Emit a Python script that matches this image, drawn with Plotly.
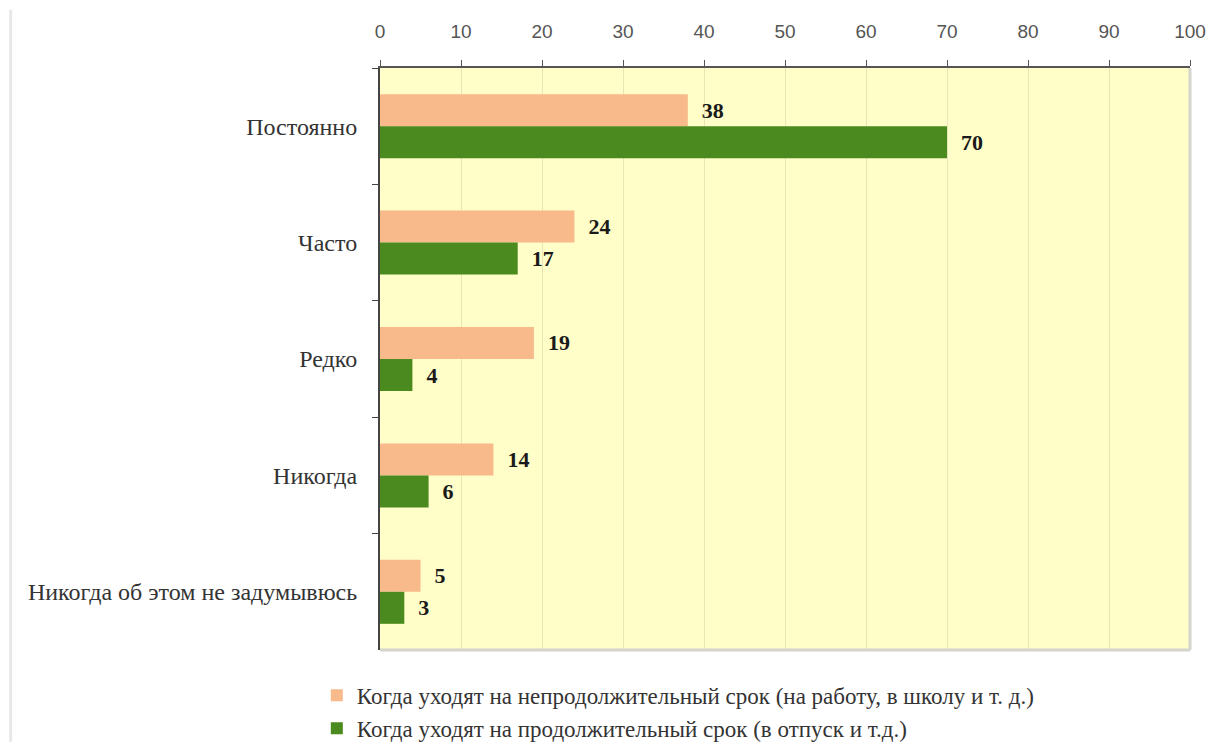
import plotly.graph_objects as go

categories = ["Постоянно", "Часто", "Редко", "Никогда", "Никогда об этом не задумывюсь"]
short_absence = [38, 24, 19, 14, 5]
long_absence = [70, 17, 4, 6, 3]
series_names = [
    "Когда уходят на непродолжительный срок (на работу, в школу и т. д.)",
    "Когда уходят на продолжительный срок (в отпуск и т.д.)",
]
x_ticks = [0, 10, 20, 30, 40, 50, 60, 70, 80, 90, 100]

ORANGE = "#F8B98B"
GREEN = "#4A8A1E"
SERIF = "Liberation Serif, Times New Roman, serif"

fig = go.Figure()
for name, vals, color, grp in [
    (series_names[0], short_absence, ORANGE, "a"),
    (series_names[1], long_absence, GREEN, "b"),
]:
    fig.add_trace(go.Bar(
        y=categories, x=vals, name=name, orientation="h",
        marker=dict(color=color, line=dict(width=0)),
        text=vals, texttemplate="\u00a0\u00a0%{text}",
        textposition="outside", cliponaxis=False,
        textfont=dict(family=SERIF, size=22, color="#1a1a1a", weight="bold"),
        legendgroup=grp,
    ))

fig.update_layout(
    width=1211, height=742,
    margin=dict(l=380, r=21, t=68, b=92, autoexpand=False),
    paper_bgcolor="white",
    plot_bgcolor="#FFFDC8",
    barmode="group",
    bargap=0.45,
    bargroupgap=0,
    showlegend=True,
    legend=dict(
        x=-0.078, y=-0.041, xanchor="left", yanchor="top",
        orientation="v", traceorder="normal",
        font=dict(family=SERIF, size=23, color="#333333"),
        tracegroupgap=0, itemwidth=30,
        bgcolor="rgba(0,0,0,0)",
    ),
    xaxis=dict(
        side="top", range=[0, 100], tickvals=x_ticks,
        ticks="outside", ticklen=6, tickcolor="#555555",
        showline=True, linecolor="#555555", linewidth=2,
        showgrid=True, gridcolor="rgba(0,0,0,0.09)", gridwidth=1,
        zeroline=False,
        tickfont=dict(family="Liberation Sans, Arial, sans-serif", size=19, color="#555555"),
        ticklabelstandoff=14,
    ),
    yaxis=dict(
        autorange="reversed", tickson="boundaries",
        ticks="outside", ticklen=6, tickcolor="#444444",
        showline=True, linecolor="#444444", linewidth=2,
        showgrid=False,
        tickfont=dict(family=SERIF, size=24, color="#333333"),
        ticklabelstandoff=16,
    ),
    shapes=[
        # soft frame on the right and bottom of the plot area
        dict(type="line", xref="paper", yref="paper", x0=1, x1=1, y0=0, y1=1,
             line=dict(color="#d4d4cc", width=3)),
        dict(type="line", xref="paper", yref="paper", x0=0, x1=1, y0=0, y1=0,
             line=dict(color="#d4d4cc", width=3)),
        # thin page rule on the far left
        dict(type="line", xref="paper", yref="paper", x0=-0.456, x1=-0.456,
             y0=-0.16, y1=1.1, line=dict(color="#e8e8e8", width=3)),
    ],
)

fig.write_html("out.html")
